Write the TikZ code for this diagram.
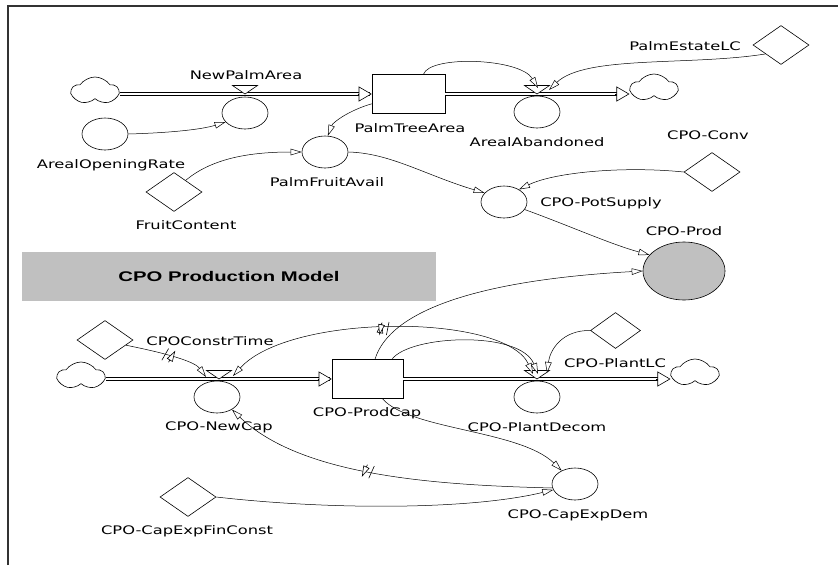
\documentclass[tikz,border=0pt]{standalone}
\usepackage{fontspec}
\newfontfamily\lblf[FakeStretch=1.38]{DejaVu Sans}
\newfontfamily\ttlf[FakeStretch=1.45]{Liberation Sans}
\usetikzlibrary{shapes.geometric,shapes.symbols,arrows.meta,calc,decorations.markings}
\definecolor{gfill}{RGB}{192,192,192}
\tikzset{
 lbl/.style={font=\lblf\fontsize{11.8}{13}\selectfont, inner sep=0pt},
 aux/.style={draw, ellipse, minimum width=46pt, minimum height=32pt, inner sep=0pt, line width=0.6pt},
 cst/.style={draw, diamond, minimum width=56pt, minimum height=39pt, inner sep=0pt, line width=0.6pt},
 stockbox/.style={draw, rectangle, minimum width=73pt, minimum height=39pt, inner sep=0pt, line width=0.6pt},
 cloudy/.style={draw, cloud, cloud puffs=5, cloud puff arc=110, aspect=1.6, minimum width=46pt, minimum height=28pt, inner sep=0pt, line width=0.6pt},
 pipe/.style={double, double distance=2pt, line width=0.6pt},
 ftip/.style={-{Triangle[fill=white,length=13pt,width=15pt]}, line width=0.6pt},
 conn/.style={-{Triangle[fill=white,length=11pt,width=6.5pt]}, line width=0.5pt},
 connboth/.style={{Triangle[fill=white,length=11pt,width=6.5pt]}-{Triangle[fill=white,length=11pt,width=6.5pt]}, line width=0.5pt},
 valvetri/.style={draw, fill=white, line width=0.6pt},
 delaymark/.style={postaction={decorate}, decoration={markings, mark=at position #1 with {\draw[line width=0.6pt] (-5pt,-6.5pt)--(-2pt,6.5pt) (2pt,-6.5pt)--(5pt,6.5pt);}}},
}
\begin{document}
\begin{tikzpicture}[x=1pt,y=-1pt]
\useasboundingbox (0,0) rectangle (838,565);
% frame
\draw[line width=1.1pt, black!80] (8,565) -- (8,6) -- (838,6);

% ---------- top flow ----------
\node[cloudy] (cl1) at (95,91) {};
\node[stockbox] (s1) at (408.5,94) {};
\node[cloudy] (cl2) at (654,88) {};
\coordinate (v1) at (245,94);
\coordinate (v2) at (537,94);
\draw[pipe] (cl1.east |- s1.west) -- ($(s1.west)+(-2,0)$);
\draw[ftip] ($(s1.west)+(-14,0)$) -- (s1.west);
\draw[pipe] (s1.east) -- ($(s1.east -| cl2.west)+(-2,0)$);
\draw[ftip] ($(s1.east -| cl2.west)+(-14,0)$) -- (s1.east -| cl2.west);
\draw[valvetri] (v1) -- ++(-12.5,-8.5) -- ++(25,0) -- cycle;
\draw[valvetri] (v2) -- ++(-12.5,-8.5) -- ++(25,0) -- cycle;
\node[aux] (npa) at (245,113) {};
\node[aux] (aab) at (537,112) {};
\node[lbl] (tnpa) at (246,75) {NewPalmArea};
\node[lbl] (ts1) at (410,128) {PalmTreeArea};
\node[lbl] (taab) at (537,142) {ArealAbandoned};
\node[cst] (pel) at (781,45) {};
\node[lbl] (tpel) at (685,46) {PalmEstateLC};
\node[aux] (aor) at (105,134) {};
\node[lbl] (taor) at (111,165) {ArealOpeningRate};
\node[aux] (pfa) at (325,152) {};
\node[lbl] (tpfa) at (327,182) {PalmFruitAvail};
\node[cst] (fc) at (174,192) {};
\node[lbl] (tfc) at (186,225) {FruitContent};
\node[aux] (pots) at (504,202) {};
\node[lbl] (tpots) at (601,203) {CPO-PotSupply};
\node[cst] (conv) at (712,172) {};
\node[lbl] (tconv) at (708,135) {CPO-Conv};
\node[aux, fill=gfill, minimum width=82pt, minimum height=58pt] (prod) at (684,271) {};
\node[lbl] (tprod) at (684,231) {CPO-Prod};

\node[fill=gfill, minimum width=414pt, minimum height=49pt, inner sep=0pt,
      font=\ttlf\bfseries\fontsize{14}{16}\selectfont] (title) at (229,276.5) {CPO Production Model};

% top connectors
\draw[conn] ($(s1.north)+(15,0)$) .. controls (430,55) and (520,58) .. ($(v2)+(1,-6)$);
\draw[conn] (pel.210) .. controls (690,66) and (585,55) .. ($(v2)+(12,-4)$);
\draw[conn] (aor.east) .. controls (165,133) and (200,130) .. (npa.205);
\draw[conn] ($(s1.south west)+(0,-10)$) .. controls (350,110) and (333,122) .. (pfa.80);
\draw[conn] (fc.45) .. controls (210,160) and (245,152) .. (pfa.west);
\draw[conn] (pfa.east) .. controls (390,153) and (425,175) .. (pots.155);
\draw[conn] (conv.west) .. controls (625,166) and (555,172) .. (pots.40);
\draw[conn] (pots.-20) .. controls (570,226) and (610,244) .. (prod.155);

% ---------- bottom flow ----------
\node[cloudy] (cl3) at (81,376) {};
\node[stockbox, minimum width=71pt] (s2) at (367.5,379) {};
\node[cloudy] (cl4) at (695,373) {};
\coordinate (v3) at (219,379);
\coordinate (v4) at (537,379);
\draw[pipe] (cl3.east |- s2.west) -- ($(s2.west)+(-2,0)$);
\draw[ftip] ($(s2.west)+(-14,0)$) -- (s2.west);
\draw[pipe] (s2.east) -- ($(s2.east -| cl4.west)+(-2,0)$);
\draw[ftip] ($(s2.east -| cl4.west)+(-14,0)$) -- (s2.east -| cl4.west);
\draw[valvetri] (v3) -- ++(-12.5,-8.5) -- ++(25,0) -- cycle;
\draw[valvetri] (v4) -- ++(-12.5,-8.5) -- ++(25,0) -- cycle;
\node[aux] (ncap) at (217,397) {};
\node[aux] (pdec) at (537,397) {};
\node[lbl] (tncap) at (219,427) {CPO-NewCap};
\node[lbl] (ts2) at (367,413) {CPO-ProdCap};
\node[lbl] (tpdec) at (537,427) {CPO-PlantDecom};
\node[cst, minimum width=50pt, minimum height=36pt] (plc) at (615.5,330.5) {};
\node[lbl] (tplc) at (615,363) {CPO-PlantLC};
\node[cst] (ctime) at (105,340) {};
\node[lbl] (tctime) at (210,341) {CPOConstrTime};
\node[aux] (ced) at (575,484) {};
\node[lbl] (tced) at (578,515) {CPO-CapExpDem};
\node[cst] (cefc) at (188,497) {};
\node[lbl] (tcefc) at (187,531) {CPO-CapExpFinConst};

% bottom connectors
\draw[conn, delaymark=0.5] (ctime.-14) .. controls (170,354) and (195,362) .. ($(v3)+(-13,-2)$);
\draw[connboth, delaymark=0.5] ($(v4)+(-4,-5)$) .. controls (505,313) and (290,313) .. ($(v3)+(14,-3)$);
\draw[conn] ($(s2.north)+(7.5,0)$) .. controls (390,310) and (480,280) .. (prod.west);
\draw[conn] ($(s2.north)+(24.5,0)$) .. controls (410,335) and (520,330) .. ($(v4)+(1,-5)$);
\draw[conn] (plc.west) .. controls (562,330) and (550,350) .. ($(v4)+(10,-6)$);
\draw[conn] ($(s2.south)+(15,0)$) .. controls (410,430) and (520,430) .. (ced.135);
\draw[conn, delaymark=0.55] (ced.190) .. controls (430,485) and (300,475) .. (ncap.-40);
\draw[conn] (cefc.east) .. controls (330,510) and (470,510) .. (ced.195);
\end{tikzpicture}
\end{document}
